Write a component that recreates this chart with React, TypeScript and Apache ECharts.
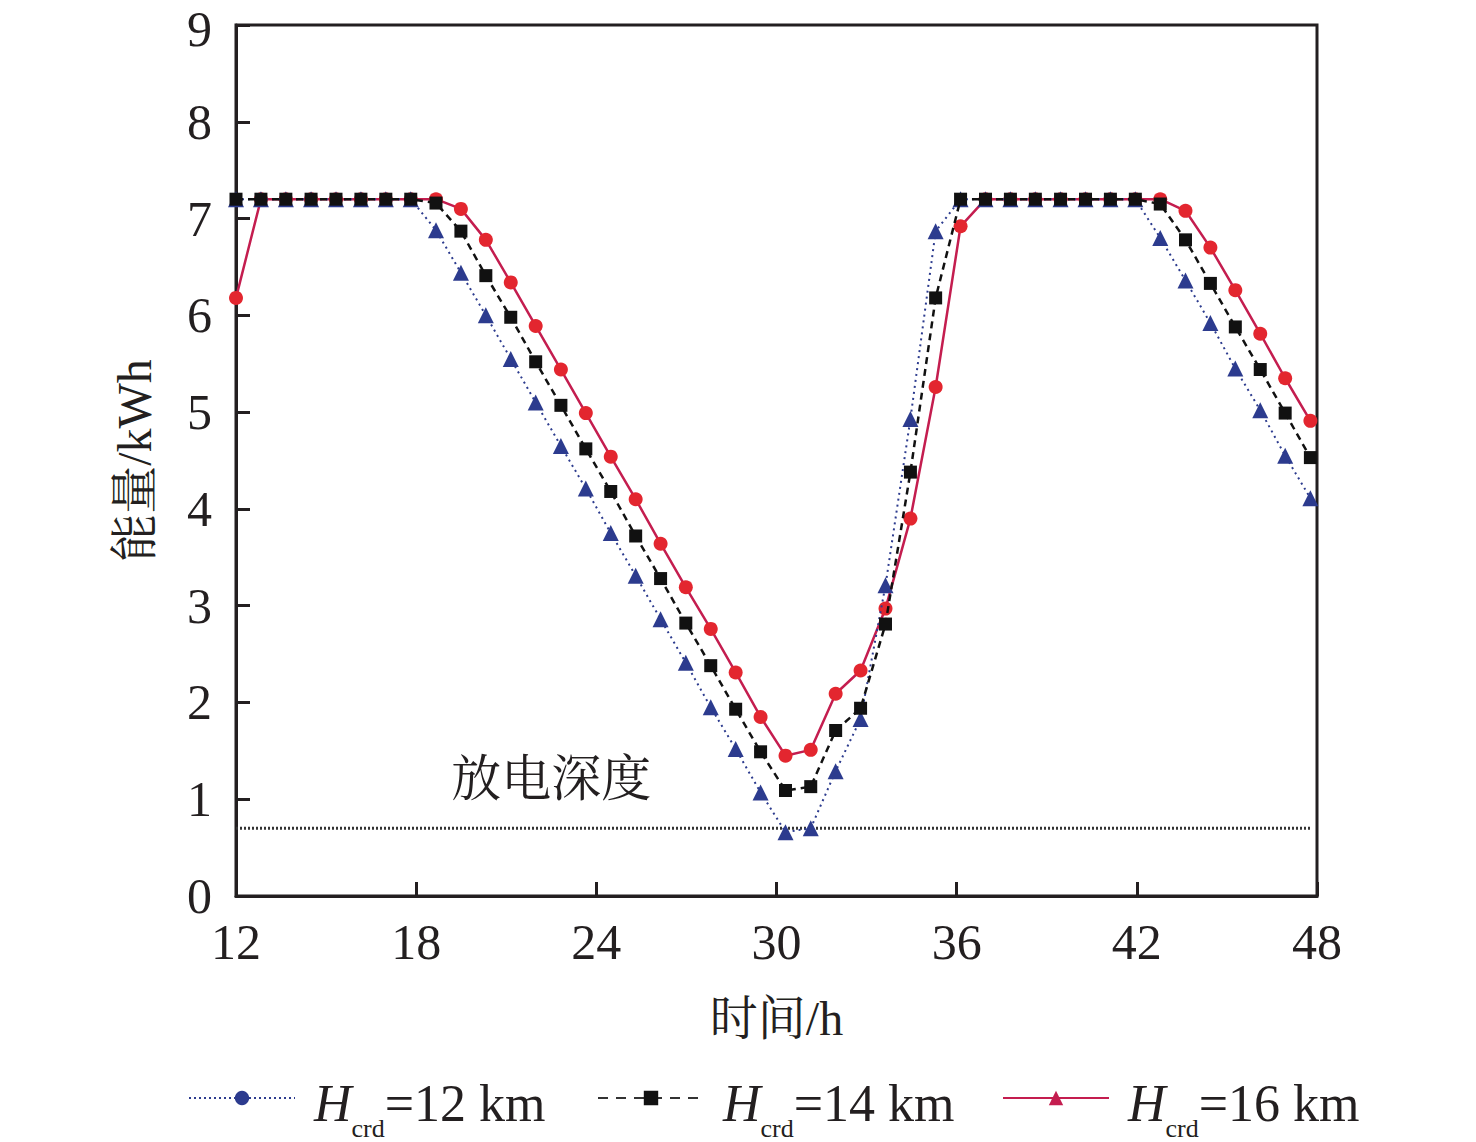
import React, { useEffect, useRef } from "react";
import * as echarts from "echarts";

// time (h) of each sample
const times = [
  12.0, 12.83, 13.66, 14.5, 15.33, 16.16, 16.99, 17.82, 18.66, 19.49, 20.32,
  21.15, 21.98, 22.82, 23.65, 24.48, 25.31, 26.14, 26.98, 27.81, 28.64, 29.47,
  30.3, 31.14, 31.97, 32.8, 33.63, 34.46, 35.3, 36.13, 36.96, 37.79, 38.62,
  39.46, 40.29, 41.12, 41.95, 42.78, 43.62, 44.45, 45.28, 46.11, 46.94, 47.78,
];

// H_crd = 12 km (blue, dotted)
const energyH12 = [
  7.2, 7.2, 7.2, 7.2, 7.2, 7.2, 7.2, 7.2, 6.88, 6.44, 6.0, 5.55, 5.1, 4.65,
  4.21, 3.75, 3.31, 2.86, 2.41, 1.95, 1.52, 1.07, 0.66, 0.7, 1.29, 1.83, 3.21,
  4.93, 6.87, 7.2, 7.2, 7.2, 7.2, 7.2, 7.2, 7.2, 7.2, 6.8, 6.36, 5.92, 5.45,
  5.02, 4.55, 4.11,
];

// H_crd = 14 km (black, dashed)
const energyH14 = [
  7.2, 7.2, 7.2, 7.2, 7.2, 7.2, 7.2, 7.2, 7.16, 6.87, 6.41, 5.98, 5.52, 5.07,
  4.62, 4.18, 3.72, 3.28, 2.82, 2.38, 1.93, 1.49, 1.09, 1.13, 1.71, 1.94, 2.81,
  4.38, 6.18, 7.2, 7.2, 7.2, 7.2, 7.2, 7.2, 7.2, 7.2, 7.15, 6.78, 6.33, 5.88,
  5.44, 4.99, 4.53,
];

// H_crd = 16 km (red, solid)
const energyH16 = [
  6.18, 7.2, 7.2, 7.2, 7.2, 7.2, 7.2, 7.2, 7.2, 7.1, 6.78, 6.34, 5.89, 5.44,
  4.99, 4.54, 4.1, 3.64, 3.19, 2.76, 2.31, 1.85, 1.45, 1.51, 2.09, 2.33, 2.97,
  3.9, 5.26, 6.92, 7.2, 7.2, 7.2, 7.2, 7.2, 7.2, 7.2, 7.2, 7.08, 6.7, 6.26,
  5.81, 5.35, 4.91,
];

// depth-of-discharge level
const depthLevel = 0.7;
const depthSpan = [12, 47.8];
const depthLabel = "放电深度";
const depthLabelAt = [22.5, 1.21];

const legendHeights = [12, 14, 16];

const FONT =
  '"Times New Roman", "Liberation Serif", "Noto Serif CJK SC", "Noto Sans CJK SC", serif';
const INK = "#231f20";
const BLUE = "#2c3b8e";
const BLACK = "#111111";
const RED_LINE = "#c41d4f";
const RED_DOT = "#e3262f";

const zip = (xs: number[], ys: number[]) => xs.map((x, i) => [x, ys[i]]);

export default function App() {
  const ref = useRef<HTMLDivElement>(null);

  useEffect(() => {
    if (!ref.current) return;
    const chart = echarts.init(ref.current, undefined, { renderer: "svg" });

    const legendName = (h: number) => `legend-${h}`;
    const legendStyles = [
      { symbol: "circle", color: BLUE, line: { color: BLUE, width: 2.5, type: [2, 3] } },
      { symbol: "rect", color: BLACK, line: { color: "#333", width: 3, type: [10, 8] } },
      { symbol: "triangle", color: RED_LINE, line: { color: RED_LINE, width: 3, type: "solid" } },
    ];
    const legendLefts = [188, 597, 1002];

    const rich = {
      i: {
        fontFamily: FONT,
        fontStyle: "italic",
        fontSize: 52,
        lineHeight: 52,
        color: INK,
        padding: [10, 0, 0, 14],
      },
      s: {
        fontFamily: FONT,
        fontSize: 26,
        lineHeight: 26,
        color: INK,
        padding: [60, 0, 0, 0],
      },
      n: {
        fontFamily: FONT,
        fontSize: 52,
        lineHeight: 52,
        color: INK,
        padding: [10, 0, 0, 0],
      },
    };

    const option: any = {
      animation: false,
      backgroundColor: "#ffffff",
      grid: {
        left: 236,
        top: 25,
        right: 159,
        bottom: 246,
        show: true,
        borderColor: INK,
        borderWidth: 3,
        backgroundColor: "transparent",
      },
      legend: legendHeights.map((h, i) => ({
        data: [legendName(h)],
        left: legendLefts[i],
        top: 1055,
        padding: 0,
        itemWidth: 106,
        itemHeight: 18,
        selectedMode: false,
        formatter: () => `{i|H}{s|crd}{n|=${h} km}`,
        textStyle: { rich },
      })),
      xAxis: {
        type: "value",
        min: 12,
        max: 48,
        interval: 6,
        name: "时间/h",
        nameLocation: "middle",
        nameGap: 98,
        nameTextStyle: { fontFamily: FONT, fontSize: 48, color: INK },
        axisLine: { show: true, lineStyle: { color: INK, width: 3 } },
        axisTick: { show: true, inside: true, length: 14, lineStyle: { color: INK, width: 3 } },
        axisLabel: { fontFamily: FONT, fontSize: 50, color: INK, margin: 21 },
        splitLine: { show: false },
      },
      yAxis: {
        type: "value",
        min: 0,
        max: 9,
        interval: 1,
        name: "能量/kWh",
        nameLocation: "middle",
        nameGap: 78,
        nameTextStyle: { fontFamily: FONT, fontSize: 48, color: INK },
        axisLine: { show: true, lineStyle: { color: INK, width: 3 } },
        axisTick: { show: true, inside: true, length: 14, lineStyle: { color: INK, width: 3 } },
        axisLabel: {
          fontFamily: FONT,
          fontSize: 50,
          color: INK,
          margin: 24,
          formatter: (v: number) => (v === 9 ? `{t|${v}}` : `${v}`),
          rich: {
            t: { fontFamily: FONT, fontSize: 50, color: INK, padding: [8, 0, 0, 0] },
          },
        },
        splitLine: { show: false },
      },
      series: [
        {
          name: "Hcrd=16 km",
          type: "line",
          data: zip(times, energyH16),
          symbol: "circle",
          symbolSize: 14,
          itemStyle: { color: RED_DOT },
          lineStyle: { color: RED_LINE, width: 2.5, type: "solid" },
          z: 2,
        },
        {
          name: "Hcrd=12 km",
          type: "line",
          data: zip(times, energyH12),
          symbol: "triangle",
          symbolSize: 16,
          itemStyle: { color: BLUE },
          lineStyle: { color: BLUE, width: 2, type: [2, 4] },
          z: 3,
        },
        {
          name: "Hcrd=14 km",
          type: "line",
          data: zip(times, energyH14),
          symbol: "rect",
          symbolSize: 13,
          itemStyle: { color: BLACK },
          lineStyle: { color: BLACK, width: 2.5, type: [7, 5] },
          z: 4,
        },
        {
          name: "depth",
          type: "line",
          data: depthSpan.map((x) => [x, depthLevel]),
          symbol: "none",
          lineStyle: { color: "#333333", width: 3, type: [2, 2] },
          z: 1,
          markPoint: {
            symbol: "circle",
            symbolSize: 1,
            itemStyle: { color: "transparent" },
            data: [{ coord: depthLabelAt }],
            label: {
              show: true,
              position: "inside",
              formatter: depthLabel,
              fontFamily: FONT,
              fontSize: 50,
              color: INK,
            },
          },
        },
        ...legendHeights.map((h, i) => ({
          name: legendName(h),
          type: "line",
          data: [],
          symbol: legendStyles[i].symbol,
          itemStyle: { color: legendStyles[i].color },
          lineStyle: legendStyles[i].line,
        })),
      ],
    };

    chart.setOption(option);
    return () => chart.dispose();
  }, []);

  return (
    <div
      ref={ref}
      style={{ position: "fixed", left: 0, top: 0, width: 1476, height: 1142, background: "#fff" }}
    />
  );
}
